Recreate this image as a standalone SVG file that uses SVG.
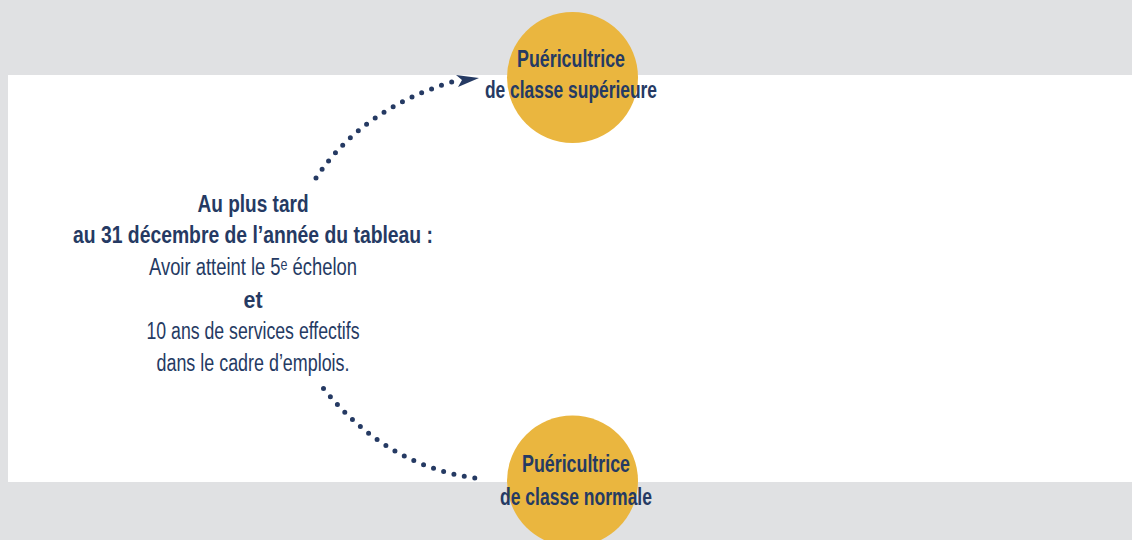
<svg xmlns="http://www.w3.org/2000/svg" width="1132" height="540" viewBox="0 0 1132 540">
<style>
.t{font-family:"Liberation Sans","DejaVu Sans",Arial,sans-serif;fill:#253a63;text-anchor:middle;font-size:23px}
.b{font-weight:bold}
.dot{fill:none;stroke:#253a63;stroke-width:5;stroke-linecap:round;stroke-dasharray:0 10.6}
.c{fill:#eab63f}
</style>
<rect width="1132" height="540" fill="#e0e1e3"/>
<rect x="8" y="75" width="1124" height="407" fill="#ffffff"/>
<g id="connectors">
<path class="dot" d="M316,178 Q362,109 452,82"/>
<polygon points="456,75 479,78 458,87 462,80" fill="#253a63"/>
<path class="dot" d="M323.5,388.5 Q386,466 475,478"/>
</g>
<g id="node-superieure">
<circle class="c" cx="572.5" cy="77.5" r="65.5"/>
<text class="t b" x="571" y="67" textLength="108" lengthAdjust="spacingAndGlyphs">Puéricultrice</text>
<text class="t b" x="571" y="98" textLength="172" lengthAdjust="spacingAndGlyphs">de classe supérieure</text>
</g>
<g id="node-normale">
<circle class="c" cx="572.5" cy="481" r="65.5"/>
<text class="t b" x="576" y="472" textLength="108" lengthAdjust="spacingAndGlyphs">Puéricultrice</text>
<text class="t b" x="576" y="505" textLength="152" lengthAdjust="spacingAndGlyphs">de classe normale</text>
</g>
<g id="condition">
<text class="t b" x="253" y="212" textLength="111" lengthAdjust="spacingAndGlyphs">Au plus tard</text>
<text class="t b" x="253" y="243" textLength="360" lengthAdjust="spacingAndGlyphs">au 31 décembre de l’année du tableau :</text>
<text class="t" x="253" y="275" textLength="208" lengthAdjust="spacingAndGlyphs">Avoir atteint le 5ᵉ échelon</text>
<text class="t b" x="253" y="308" textLength="19" lengthAdjust="spacingAndGlyphs">et</text>
<text class="t" x="253" y="339" textLength="213" lengthAdjust="spacingAndGlyphs">10 ans de services effectifs</text>
<text class="t" x="253" y="371" textLength="193" lengthAdjust="spacingAndGlyphs">dans le cadre d’emplois.</text>
</g>
</svg>
